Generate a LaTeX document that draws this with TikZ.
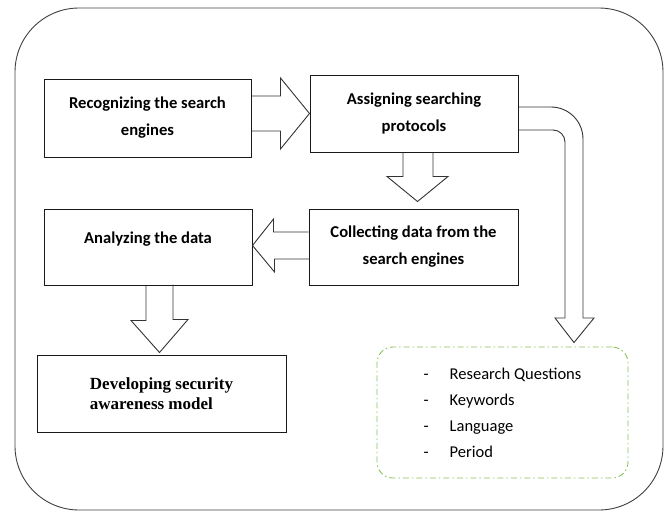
\documentclass[tikz,border=0pt]{standalone}
\usepackage{fontspec}
\setmainfont{Carlito}
\newfontfamily\timesfont{Liberation Serif}
\usepackage{xcolor}
\definecolor{dashgreen}{RGB}{135,196,88}
\usetikzlibrary{calc}

\begin{document}
\begin{tikzpicture}[
  x=1pt, y=-1pt,
  block/.style={draw=black!90, line width=1pt, minimum width=208pt, minimum height=77pt, inner sep=0pt, align=center, font=\fontsize{16.6}{27}\selectfont\bfseries},
  hollow/.style={draw=black!80, line width=0.9pt, line join=miter},
  pipe/.style={draw=black!80, line width=0.9pt}
]
\useasboundingbox (0,0) rectangle (670,514);
\draw[black!75, line width=0.9pt, rounded corners=64pt] (15,8) rectangle (663,510);
\node[block, minimum width=207pt, minimum height=78pt] (recog) at (147.5,118) {Recognizing the search\\engines};
\node[block] (assign) at (414,113.5) {Assigning searching\\protocols};
\node[block, minimum width=209pt, minimum height=76pt] (collect) at (413.5,247) {Collecting data from the\\search engines};
\node[block, minimum height=76pt, text depth=18pt] (analyze) at (148,247) {Analyzing the data};
\node[block, minimum width=249pt, align=left, font=\timesfont\fontsize{17}{20}\selectfont\bfseries] (develop) at (161.5,393.5) {Developing security\\awareness model};
\node[draw=dashgreen, line width=0.9pt, dash pattern=on 6pt off 3pt on 1.5pt off 3pt, rounded corners=16pt, minimum width=251pt, minimum height=131pt, align=left, font=\fontsize{16.5}{26}\selectfont] (params) at (502.5,412.5) {\makebox[26pt][l]{-}Research Questions\\\makebox[26pt][l]{-}Keywords\\\makebox[26pt][l]{-}Language\\\makebox[26pt][l]{-}Period};
\draw[hollow] ($(assign.west)+(-58,-17.5)$) -- ++(29,0) -- ++(0,-18) -- (assign.west) -- ++(-29,35.5) -- ++(0,-18) -- ++(-29,0);
\draw[hollow] ($(assign.south)+(-11,0)$) -- ++(0,24) -- ++(-16,0) -- ($(assign.south)+(3.5,49)$) -- ++(30.5,-25) -- ++(-15,0) -- ++(0,-24);
\draw[hollow] ($(collect.west)+(0,-15)$) -- ++(-35,0) -- ++(0,-13) -- ($(analyze.east)+(0,-1.5)$) -- ++(22,26.5) -- ++(0,-13) -- ++(35,0);
\draw[hollow] ($(analyze.south)+(-2,0)$) -- ++(0,35) -- ++(-15,0) -- ($(develop.north)+(-2,-2)$) -- ++(28.5,-33) -- ++(-15,0) -- ++(0,-35);
\draw[pipe, rounded corners=32pt] ($(assign.east)+(0,-6.5)$) -| (583,318);
\draw[pipe, rounded corners=12pt] ($(assign.east)+(0,16.5)$) -| (565,318);
\draw[hollow] (565,318) -- (555,318) -- ($(params.north)+(71.5,-4)$) -- (594,318) -- (583,318);
\end{tikzpicture}
\end{document}
